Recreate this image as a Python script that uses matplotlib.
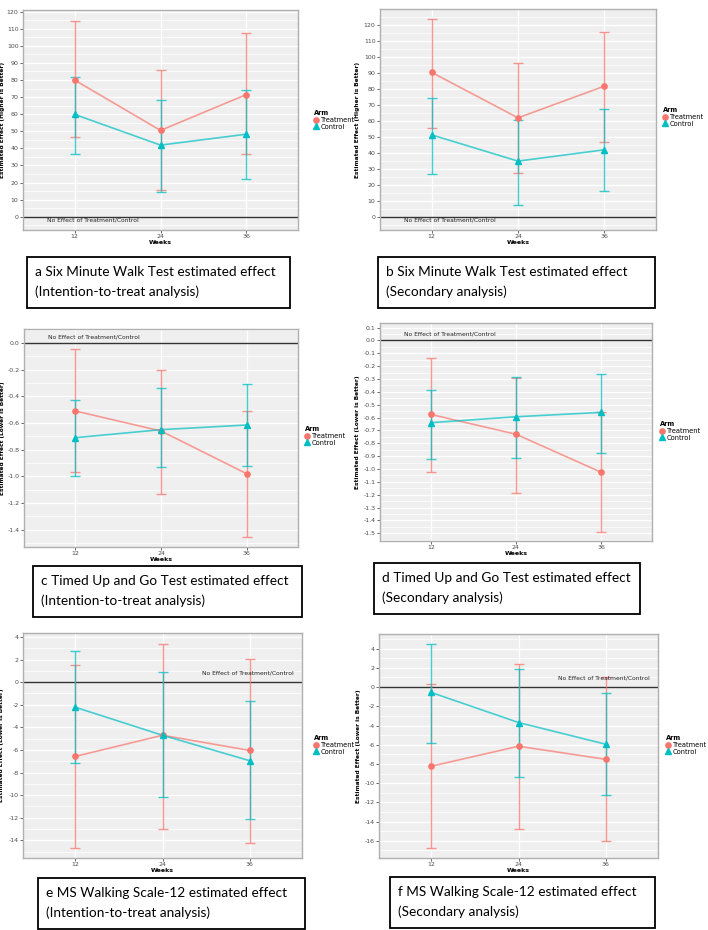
import matplotlib
matplotlib.use("Agg")
import matplotlib.pyplot as plt
from matplotlib.patches import Rectangle
from matplotlib.ticker import MultipleLocator, FormatStrFormatter
import numpy as np

weeks = ["12", "24", "36"]
arms = ["Treatment", "Control"]

# Panel a: Six Minute Walk Test, ITT
a_trt = [80.0, 50.5, 71.5]
a_trt_lo = [46.8, 15.4, 36.8]
a_trt_hi = [114.7, 85.7, 107.8]
a_ctl = [59.9, 41.9, 48.3]
a_ctl_lo = [36.5, 14.2, 22.3]
a_ctl_hi = [81.6, 68.1, 74.4]

# Panel b: Six Minute Walk Test, secondary
b_trt = [90.2, 61.8, 81.6]
b_trt_lo = [55.3, 27.1, 46.6]
b_trt_hi = [123.4, 96.2, 115.7]
b_ctl = [51.1, 34.7, 41.8]
b_ctl_lo = [26.9, 7.5, 15.9]
b_ctl_hi = [73.9, 60.5, 67.4]

# Panel c: Timed Up and Go, ITT
c_trt = [-0.51, -0.66, -0.98]
c_trt_lo = [-0.97, -1.13, -1.455]
c_trt_hi = [-0.048, -0.20, -0.51]
c_ctl = [-0.71, -0.65, -0.615]
c_ctl_lo = [-1.00, -0.93, -0.92]
c_ctl_hi = [-0.43, -0.34, -0.31]

# Panel d: Timed Up and Go, secondary
d_trt = [-0.576, -0.73, -1.025]
d_trt_lo = [-1.025, -1.186, -1.487]
d_trt_hi = [-0.14, -0.29, -0.56]
d_ctl = [-0.64, -0.594, -0.56]
d_ctl_lo = [-0.924, -0.916, -0.872]
d_ctl_hi = [-0.384, -0.288, -0.26]

# Panel e: MS Walking Scale-12, ITT
e_trt = [-6.57, -4.7, -6.04]
e_trt_lo = [-14.65, -13.0, -14.2]
e_trt_hi = [1.5, 3.4, 2.07]
e_ctl = [-2.22, -4.7, -6.95]
e_ctl_lo = [-7.13, -10.15, -12.13]
e_ctl_hi = [2.72, 0.92, -1.63]

# Panel f: MS Walking Scale-12, secondary
f_trt = [-8.24, -6.16, -7.52]
f_trt_lo = [-16.77, -14.75, -16.07]
f_trt_hi = [0.28, 2.43, 1.0]
f_ctl = [-0.56, -3.69, -5.95]
f_ctl_lo = [-5.84, -9.32, -11.23]
f_ctl_hi = [4.45, 1.88, -0.6]

ylabels = ["Estimated Effect (Higher is Better)", "Estimated Effect (Higher is Better)",
           "Estimated Effect (Lower is Better)", "Estimated Effect (Lower is Better)",
           "Estimated Effect (Lower is Better)", "Estimated Effect (Lower is Better)"]
captions = [
    ("a Six Minute Walk Test estimated effect", "(Intention-to-treat analysis)"),
    ("b Six Minute Walk Test estimated effect", "(Secondary analysis)"),
    ("c Timed Up and Go Test estimated effect", "(Intention-to-treat analysis)"),
    ("d Timed Up and Go Test estimated effect", "(Secondary analysis)"),
    ("e MS Walking Scale-12 estimated effect", "(Intention-to-treat analysis)"),
    ("f MS Walking Scale-12 estimated effect", "(Secondary analysis)"),
]
ref_text = "No Effect of Treatment/Control"

W, H = 708, 930
fig = plt.figure(figsize=(W / 100, H / 100), dpi=100)
fig.patch.set_facecolor("white")

def box(l, r, t, b):
    return [l / W, 1 - b / H, (r - l) / W, (b - t) / H]

axes_px = [(23, 298, 10, 230), (380, 656, 9, 230),
           (24, 298, 329, 547), (380, 652, 323, 541),
           (23, 302, 633, 858), (379, 658, 634, 858)]
ylab_px = [5, 360, 5, 360, 4, 361]
leg_px = [(314, 112), (663, 109), (305, 428), (660, 423), (314, 737), (666, 737)]
ylims = [(-7.8, 121), (-8.4, 129.9), (-1.53, 0.105), (-1.56, 0.135),
         (-15.56, 4.35), (-17.8, 5.53)]
major = [10, 10, 0.2, 0.1, 2, 2]
fmts = ["%d", "%d", "%.1f", "%.1f", "%d", "%d"]

panels = [
    (a_trt, a_trt_lo, a_trt_hi, a_ctl, a_ctl_lo, a_ctl_hi),
    (b_trt, b_trt_lo, b_trt_hi, b_ctl, b_ctl_lo, b_ctl_hi),
    (c_trt, c_trt_lo, c_trt_hi, c_ctl, c_ctl_lo, c_ctl_hi),
    (d_trt, d_trt_lo, d_trt_hi, d_ctl, d_ctl_lo, d_ctl_hi),
    (e_trt, e_trt_lo, e_trt_hi, e_ctl, e_ctl_lo, e_ctl_hi),
    (f_trt, f_trt_lo, f_trt_hi, f_ctl, f_ctl_lo, f_ctl_hi),
]
col_t = "#F8766D"
col_c = "#00BFC4"
x = np.arange(1, len(weeks) + 1)

for i, (ax_px, pdata) in enumerate(zip(axes_px, panels)):
    l, r, t, b = ax_px
    ax = fig.add_axes(box(*ax_px))
    ax.set_facecolor("#EFEFEF")
    trt, tlo, thi, ctl, clo, chi = pdata
    for vals, lo, hi, col, mk, ms, lab in [
        (trt, tlo, thi, col_t, "o", 3.8, arms[0]),
        (ctl, clo, chi, col_c, "^", 4.4, arms[1])]:
        vals = np.array(vals); lo = np.array(lo); hi = np.array(hi)
        ax.errorbar(x, vals, yerr=[vals - lo, hi - vals], fmt="none",
                    ecolor=col, elinewidth=1.0, capsize=3.4, capthick=1.0,
                    alpha=0.75, zorder=3)
        ax.plot(x, vals, color=col, lw=1.2, alpha=0.7, zorder=4)
        ax.plot(x, vals, linestyle="none", marker=mk, ms=ms, color=col,
                markeredgecolor=col, zorder=5, label=lab)
    ax.axhline(0, color="#333333", lw=1.0, zorder=2)
    ax.set_xlim(0.4, 3.6)
    ax.set_ylim(*ylims[i])
    ax.set_xticks(x)
    ax.set_xticklabels(weeks)
    ax.yaxis.set_major_locator(MultipleLocator(major[i]))
    ax.yaxis.set_minor_locator(MultipleLocator(major[i] / 2))
    ax.yaxis.set_major_formatter(FormatStrFormatter(fmts[i]))
    ax.grid(True, which="major", color="white", lw=0.9, zorder=0)
    ax.grid(True, which="minor", axis="y", color="white", lw=0.5, zorder=0)
    ax.set_axisbelow(True)
    ax.tick_params(axis="both", which="major", labelsize=4.5, colors="#4D4D4D",
                   length=2, width=0.6, pad=1.2)
    ax.tick_params(axis="both", which="minor", length=0)
    for sp in ax.spines.values():
        sp.set_color("#B0B0B0")
        sp.set_linewidth(1.0)
    ax.set_xlabel("Weeks", fontsize=4.5, fontweight="bold", labelpad=0.5)
    ax.set_ylabel(ylabels[i], fontsize=4.2, fontweight="bold")
    ax.yaxis.set_label_coords((ylab_px[i] - l) / (r - l), 0.5)
    if i < 2:
        ax.annotate(ref_text, xy=(0.68, 0), xytext=(0, -3.5), textcoords="offset pixels",
                    ha="left", va="center", fontsize=4.3, color="#222222")
    elif i < 4:
        ax.annotate(ref_text, xy=(0.68, 0), xytext=(0, 6), textcoords="offset pixels",
                    ha="left", va="center", fontsize=4.3, color="#222222")
    else:
        ax.annotate(ref_text, xy=(3.51, 0), xytext=(0, 9), textcoords="offset pixels",
                    ha="right", va="center", fontsize=4.3, color="#222222")
    lx, ly = leg_px[i]
    leg = ax.legend(loc="center left", bbox_to_anchor=(lx / W, 1 - (ly + 8) / H),
                    bbox_transform=fig.transFigure, frameon=False,
                    title="Arm", fontsize=4.8, title_fontsize=4.8,
                    handlelength=0.7, handletextpad=0.3, labelspacing=0.1,
                    borderaxespad=0, borderpad=0)
    leg.get_title().set_fontweight("bold")
    leg._legend_box.align = "left"

cap_px = [(27, 290, 257, 308), (378, 655, 257, 308),
          (33, 302, 566, 617), (374, 640, 563, 614),
          (38, 305, 878, 929), (390, 655, 877, 928)]
for (l, r, t, b), (l1, l2) in zip(cap_px, captions):
    fig.patches.append(Rectangle((l / W, 1 - b / H), (r - l) / W, (b - t) / H,
                                 transform=fig.transFigure, fill=False,
                                 edgecolor="black", lw=1.3))
    fig.text((l + 8) / W, 1 - (t + 15) / H, l1, fontsize=9.8, family="Lato",
             ha="left", va="center")
    fig.text((l + 8) / W, 1 - (t + 35) / H, l2, fontsize=9.8, family="Lato",
             ha="left", va="center")

fig.savefig("out.png", dpi=100)
